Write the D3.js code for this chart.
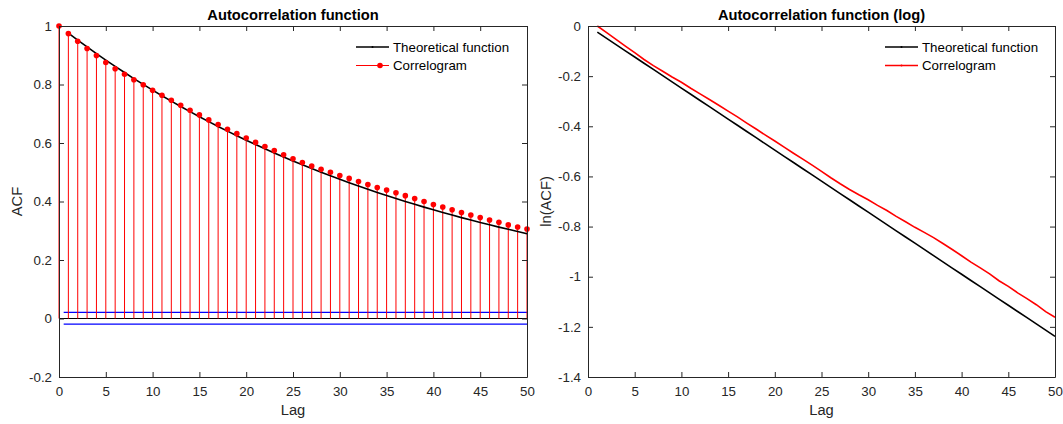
<!DOCTYPE html>
<html>
<head>
<meta charset="utf-8">
<script src="https://cdn.jsdelivr.net/npm/d3@7"></script>
<style>
  body { margin: 0; background: #fff; }
  svg { display: block; font-family: "Liberation Sans", Arial, sans-serif; }
</style>
</head>
<body>
<div class="chart"></div>
<script>
// lags 0..50 for the correlogram, 1..50 for the theoretical curve
var corrLags = d3.range(0, 51);
var theoLags = d3.range(1, 51);

// sample autocorrelation (correlogram), lag 0..50
var corrValues = [1.000, 0.974, 0.948, 0.923, 0.899, 0.875, 0.854, 0.835, 0.816, 0.799,
  0.780, 0.763, 0.746, 0.729, 0.712, 0.696, 0.679, 0.663, 0.647, 0.632,
  0.617, 0.602, 0.588, 0.574, 0.560, 0.546, 0.533, 0.521, 0.510, 0.500,
  0.489, 0.479, 0.468, 0.458, 0.448, 0.439, 0.430, 0.420, 0.410, 0.400,
  0.390, 0.381, 0.372, 0.362, 0.354, 0.345, 0.337, 0.329, 0.320, 0.313, 0.306];

// theoretical acf, lag 1..50
var theoValues = [0.9756, 0.9517, 0.9284, 0.9057, 0.8836, 0.8620, 0.8409, 0.8203, 0.8003, 0.7807,
  0.7616, 0.7430, 0.7248, 0.7071, 0.6898, 0.6730, 0.6565, 0.6405, 0.6248, 0.6095,
  0.5946, 0.5801, 0.5659, 0.5521, 0.5386, 0.5254, 0.5125, 0.5000, 0.4878, 0.4759,
  0.4642, 0.4529, 0.4418, 0.4310, 0.4205, 0.4102, 0.4001, 0.3904, 0.3808, 0.3715,
  0.3624, 0.3536, 0.3449, 0.3365, 0.3283, 0.3202, 0.3124, 0.3048, 0.2973, 0.2900];

// confidence bounds (blue lines) and the lag span they cover
var confBounds = [0.021, -0.019];
var confLagSpan = [0.5, 50];

var xTicks = d3.range(0, 51, 5);
var yTicksAcf = [-0.2, 0, 0.2, 0.4, 0.6, 0.8, 1];
var yTicksLog = [-1.4, -1.2, -1, -0.8, -0.6, -0.4, -0.2, 0];

var titles = ["Autocorrelation function", "Autocorrelation function (log)"];
var yLabels = ["ACF", "ln(ACF)"];
var legendNames = ["Theoretical function", "Correlogram"];

var cfg = {
  w: 1063, h: 424,
  top: 26, bottom: 377,
  tick: 5,
  font: 13.3,
  bigFont: 14.7,
  axisColor: "#262626",
  red: "#ff0000", blue: "#0000ff"
};

var svg = d3.select(".chart").append("svg")
  .attr("width", cfg.w)
  .attr("height", cfg.h);

function drawFrame(g, x, y, yTicks, title, ylab) {
  var x0 = x.range()[0], x1 = x.range()[1];
  var y0 = y.range()[0], y1 = y.range()[1];
  var fmt = function (d) { return String(+d.toFixed(1)); };

  // bottom axis with labels, ticks pointing inward
  var ax = g.append("g").attr("transform", "translate(0," + y0 + ")")
    .call(d3.axisBottom(x).tickValues(xTicks).tickSizeInner(-cfg.tick).tickSizeOuter(0).tickPadding(10).tickFormat(fmt));
  var ay = g.append("g").attr("transform", "translate(" + x0 + ",0)")
    .call(d3.axisLeft(y).tickValues(yTicks).tickSizeInner(-cfg.tick).tickSizeOuter(0).tickPadding(7).tickFormat(fmt));
  var at = g.append("g").attr("transform", "translate(0," + y1 + ")")
    .call(d3.axisTop(x).tickValues(xTicks).tickSizeInner(-cfg.tick).tickSizeOuter(0).tickFormat(""));
  var ar = g.append("g").attr("transform", "translate(" + x1 + ",0)")
    .call(d3.axisRight(y).tickValues(yTicks).tickSizeInner(-cfg.tick).tickSizeOuter(0).tickFormat(""));

  [ax, ay, at, ar].forEach(function (a) {
    a.selectAll("path").attr("stroke", cfg.axisColor).attr("stroke-width", 1);
    a.selectAll("line").attr("stroke", cfg.axisColor).attr("stroke-width", 1);
    a.selectAll("text").attr("fill", cfg.axisColor).style("font-size", cfg.font + "px")
      .style("font-family", "'Liberation Sans', Arial, sans-serif");
  });

  g.append("text")
    .attr("x", (x0 + x1) / 2).attr("y", 20)
    .attr("text-anchor", "middle")
    .style("font-size", cfg.bigFont + "px").style("font-weight", "bold")
    .attr("fill", "#000")
    .text(title);

  g.append("text")
    .attr("x", (x0 + x1) / 2).attr("y", 415)
    .attr("text-anchor", "middle")
    .style("font-size", cfg.bigFont + "px")
    .attr("fill", cfg.axisColor)
    .text("Lag");

  g.append("text")
    .attr("transform", "translate(" + (x0 - 37) + "," + ((y0 + y1) / 2) + ") rotate(-90)")
    .attr("text-anchor", "middle")
    .style("font-size", cfg.bigFont + "px")
    .attr("fill", cfg.axisColor)
    .text(ylab);
}

function drawLegend(g, lx, items) {
  items.forEach(function (it, i) {
    var ly = 47 + i * 18.5;
    g.append("line")
      .attr("x1", lx).attr("x2", lx + 33)
      .attr("y1", ly).attr("y2", ly)
      .attr("stroke", it.color).attr("stroke-width", it.width);
    if (it.dot) {
      g.append("circle").attr("cx", lx + it.dot).attr("cy", ly).attr("r", it.r)
        .attr("fill", it.color);
    }
    g.append("text")
      .attr("x", lx + 37).attr("y", ly).attr("dy", "0.35em")
      .style("font-size", cfg.font + "px")
      .attr("fill", "#000")
      .text(it.name);
  });
}

/////////////////////// Left panel ///////////////////////
var xL = d3.scaleLinear().domain([0, 50]).range([59, 527]);
var yL = d3.scaleLinear().domain([-0.2, 1]).range([cfg.bottom, cfg.top]);
var gL = svg.append("g");

// zero baseline
gL.append("line")
  .attr("x1", xL(0)).attr("x2", xL(50))
  .attr("y1", yL(0)).attr("y2", yL(0))
  .attr("stroke", "#000").attr("stroke-width", 1.2);

// confidence bounds
gL.selectAll(".conf").data(confBounds).enter().append("line")
  .attr("x1", xL(confLagSpan[0])).attr("x2", xL(confLagSpan[1]))
  .attr("y1", function (d) { return yL(d); }).attr("y2", function (d) { return yL(d); })
  .attr("stroke", cfg.blue).attr("stroke-width", 1.2);

// stems
gL.selectAll(".stem").data(corrLags).enter().append("line")
  .attr("x1", function (d) { return xL(d); }).attr("x2", function (d) { return xL(d); })
  .attr("y1", yL(0))
  .attr("y2", function (d, i) { return yL(corrValues[i]); })
  .attr("stroke", cfg.red).attr("stroke-width", 1);

// theoretical curve
var lineL = d3.line()
  .x(function (d) { return xL(d); })
  .y(function (d, i) { return yL(theoValues[i]); });
gL.append("path").datum(theoLags)
  .attr("d", lineL)
  .attr("fill", "none").attr("stroke", "#000").attr("stroke-width", 1.6);

// stem markers
gL.selectAll(".dot").data(corrLags).enter().append("circle")
  .attr("cx", function (d) { return xL(d); })
  .attr("cy", function (d, i) { return yL(corrValues[i]); })
  .attr("r", 2.8)
  .attr("fill", cfg.red);

drawFrame(gL, xL, yL, yTicksAcf, titles[0], yLabels[0]);
drawLegend(gL, 356, [
  { name: legendNames[0], color: "#000", width: 1.6, dot: 16.5, r: 1 },
  { name: legendNames[1], color: cfg.red, width: 1, dot: 24, r: 2.8 }
]);

/////////////////////// Right panel ///////////////////////
var xR = d3.scaleLinear().domain([0, 50]).range([588, 1055]);
var yR = d3.scaleLinear().domain([-1.4, 0]).range([cfg.bottom, cfg.top]);
var gR = svg.append("g");

var lineTheoLog = d3.line()
  .x(function (d) { return xR(d); })
  .y(function (d, i) { return yR(Math.log(theoValues[i])); });
gR.append("path").datum(theoLags)
  .attr("d", lineTheoLog)
  .attr("fill", "none").attr("stroke", "#000").attr("stroke-width", 1.6);

// correlogram on log scale, plotted against lags 1..50
var lineCorrLog = d3.line()
  .x(function (d) { return xR(d); })
  .y(function (d, i) { return yR(Math.log(corrValues[i])); });
gR.append("path").datum(theoLags)
  .attr("d", lineCorrLog)
  .attr("fill", "none").attr("stroke", cfg.red).attr("stroke-width", 1.6);

drawFrame(gR, xR, yR, yTicksLog, titles[1], yLabels[1]);
drawLegend(gR, 885, [
  { name: legendNames[0], color: "#000", width: 1.6, dot: 16.5, r: 1 },
  { name: legendNames[1], color: cfg.red, width: 1.6, dot: 16.5, r: 1 }
]);
</script>
</body>
</html>
